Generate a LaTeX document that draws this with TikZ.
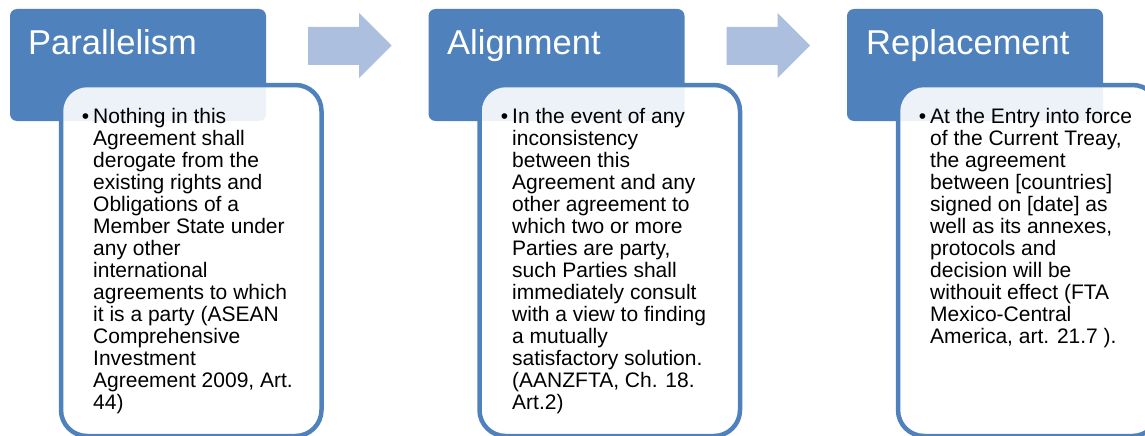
\documentclass[tikz,border=0pt]{standalone}
\usepackage{fontspec}
\setmainfont{Liberation Sans}
\definecolor{hblue}{RGB}{79,129,189}
\definecolor{ablue}{RGB}{172,191,222}
\begin{document}
\begin{tikzpicture}[x=1pt,y=-1pt,
  header/.style={draw=none,fill=hblue,rounded corners=7pt,minimum width=256pt,minimum height=112pt,anchor=north west,inner sep=0pt,outer sep=0pt},
  card/.style={draw=hblue,line width=4.5pt,fill=white,fill opacity=0.9,rounded corners=26pt,minimum width=260.5pt,minimum height=351pt,anchor=north west,inner sep=0pt,outer sep=0pt},
  title/.style={anchor=base west,inner sep=0pt,text=white,font=\fontsize{34.5}{40}\selectfont},
  body/.style={anchor=base west,inner sep=0pt,font=\fontsize{21}{22}\selectfont},
  blockarrow/.style={fill=ablue,draw=none}]
\useasboundingbox (0,0) rectangle (1145,436);
\clip (0,0) rectangle (1145,436);
\newcommand{\bul}{\makebox[0pt][r]{\textbullet\hspace{4pt}}}
% arrows
\fill[blockarrow] (308,27) -- (359,27) -- (359,13) -- (391.5,45.5) -- (359,78) -- (359,65) -- (308,65) -- cycle;
\fill[blockarrow] (726.5,27) -- (777.5,27) -- (777.5,13) -- (810,45.5) -- (777.5,78) -- (777.5,65) -- (726.5,65) -- cycle;
% group 1
\node[header] (h1) at (10,9) {};
\node[title] (t1) at (28,55) {Parallelism};
\node[card] (c1) at (61,85) {};
\node[body] (b1) at (93,123) {\parbox[t]{228pt}{\raggedright\bul Nothing in this\\
Agreement shall\\
derogate from the\\
existing rights and\\
Obligations of a\\
Member State under\\
any other\\
international\\
agreements to which\\
it is a party (ASEAN\\
Comprehensive\\
Investment\\
Agreement 2009, Art.\\
44)}};
% group 2
\node[header] (h2) at (428.5,9) {};
\node[title] (t2) at (447,55) {Alignment};
\node[card] (c2) at (479.5,85) {};
\node[body] (b2) at (512,123) {\parbox[t]{228pt}{\raggedright\bul In the event of any\\
inconsistency\\
between this\\
Agreement and any\\
other agreement to\\
which two or more\\
Parties are party,\\
such Parties shall\\
immediately consult\\
with a view to finding\\
a mutually\\
satisfactory solution.\\
(AANZFTA, Ch. 18.\\
Art.2)}};
% group 3
\node[header] (h3) at (847,9) {};
\node[title] (t3) at (866,55) {Replacement};
\node[card] (c3) at (898,85) {};
\node[body] (b3) at (930,123) {\parbox[t]{228pt}{\raggedright\bul At the Entry into force\\
of the Current Treay,\\
the agreement\\
between [countries]\\
signed on [date] as\\
well as its annexes,\\
protocols and\\
decision will be\\
withouit effect (FTA\\
Mexico-Central\\
America, art. 21.7 ).}};
\end{tikzpicture}
\end{document}
